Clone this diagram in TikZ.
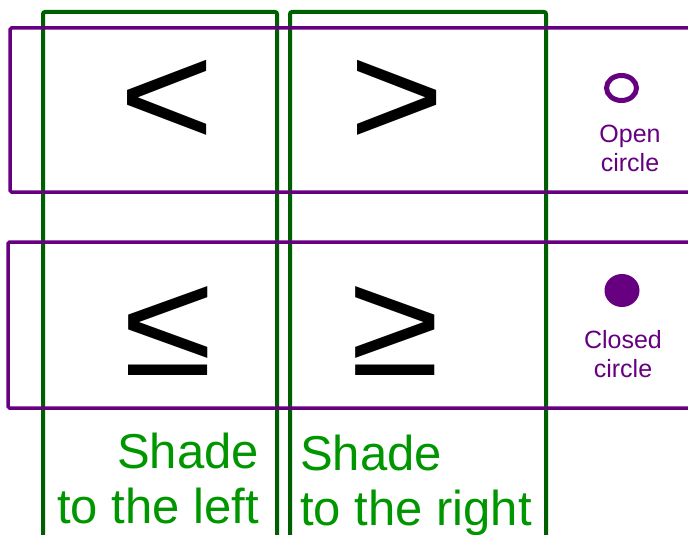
\documentclass[tikz,border=0pt]{standalone}
\usepackage{fontspec}
\setmainfont{Liberation Sans}
\usetikzlibrary{shapes.geometric}
\definecolor{pur}{RGB}{102,0,128}
\definecolor{dgreen}{RGB}{0,95,0}
\definecolor{tgreen}{RGB}{0,150,0}
\begin{document}
\begin{tikzpicture}[x=1pt,y=-1pt,
  gbox/.style={draw=dgreen,line width=4pt,rounded corners=2pt},
  pbox/.style={draw=pur,line width=3.5pt,rounded corners=1.5pt},
  sym/.style={inner sep=0pt,xscale=1.1,font=\fontsize{148}{148}\selectfont},
  gtext/.style={inner sep=0pt,text=tgreen,font=\fontsize{49}{55}\selectfont},
  ptext/.style={inner sep=0pt,text=pur,align=center,font=\fontsize{25}{29}\selectfont},
  dot/.style={ellipse,inner sep=0pt}]
\useasboundingbox (0,0) rectangle (688,535);
\clip (0,0) rectangle (688,535);
\fill[white] (0,0) rectangle (688,535);
% green columns
\draw[gbox] (43,12) rectangle (277,560);
\draw[gbox] (290,12) rectangle (546,560);
% purple rows
\draw[pbox] (10,28) rectangle (720,192);
\draw[pbox] (8,242) rectangle (720,408);
% symbols
\node[sym] (lt) at (167.5,103) {<};
\node[sym] (gt) at (397,103) {>};
\node[sym] (le) at (168.5,331) {≤};
\node[sym] (ge) at (395,331) {≥};
% circles
\node[dot,draw=pur,line width=5pt,minimum width=30pt,minimum height=25pt] (open) at (621.5,88) {};
\node[dot,fill=pur,minimum width=35pt,minimum height=33pt] (closed) at (622,290.5) {};
\node[ptext,anchor=north] (opentxt) at (630,125) {Open\\circle};
\node[ptext,anchor=north] (closedtxt) at (623,330) {Closed\\circle};
% shade labels
\node[gtext,align=right,anchor=north east] (left) at (259,433) {Shade\\to the left};
\node[gtext,align=left,anchor=north west] (right) at (300,435) {Shade\\to the right};
\end{tikzpicture}
\end{document}
